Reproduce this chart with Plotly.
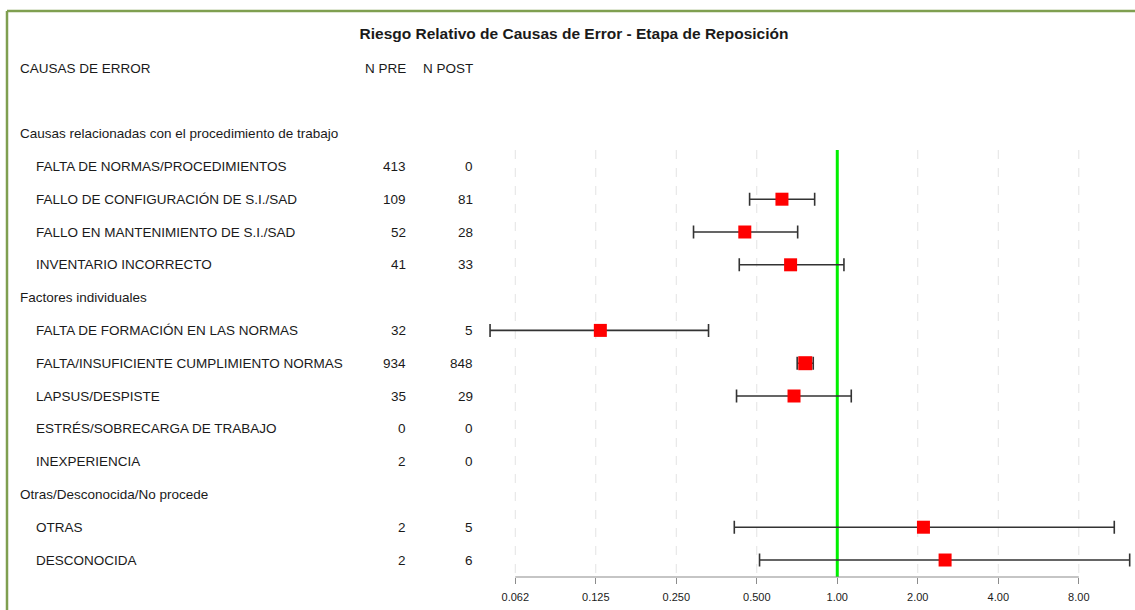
import plotly.graph_objects as go

# ---------------- data ----------------
row_labels = [
    "CAUSAS DE ERROR", "",
    "Causas relacionadas con el procedimiento de trabajo",
    "FALTA DE NORMAS/PROCEDIMIENTOS",
    "FALLO DE CONFIGURACIÓN DE S.I./SAD",
    "FALLO EN MANTENIMIENTO DE S.I./SAD",
    "INVENTARIO INCORRECTO",
    "Factores individuales",
    "FALTA DE FORMACIÓN EN LAS NORMAS",
    "FALTA/INSUFICIENTE CUMPLIMIENTO NORMAS",
    "LAPSUS/DESPISTE",
    "ESTRÉS/SOBRECARGA DE TRABAJO",
    "INEXPERIENCIA",
    "Otras/Desconocida/No procede",
    "OTRAS",
    "DESCONOCIDA",
]
row_kind = ["header", "blank", "group", "item", "item", "item", "item", "group",
            "item", "item", "item", "item", "item", "group", "item", "item"]
n_pre = ["N PRE", "", "", "413", "109", "52", "41", "", "32", "934", "35", "0", "2", "", "2", "2"]
n_post = ["N POST", "", "", "0", "81", "28", "33", "", "5", "848", "29", "0", "0", "", "5", "6"]
rr = [None, None, None, None, 0.621, 0.451, 0.669, None, 0.130, 0.759, 0.689, None, None, None, 2.10, 2.53]
ci_lo = [None, None, None, None, 0.470, 0.290, 0.430, None, 0.0503, 0.708, 0.420, None, None, None, 0.412, 0.512]
ci_hi = [None, None, None, None, 0.823, 0.711, 1.059, None, 0.330, 0.813, 1.128, None, None, None, 10.86, 12.4]

tick_vals = [0.0625, 0.125, 0.25, 0.5, 1, 2, 4, 8]
tick_text = ["0.062", "0.125", "0.250", "0.500", "1.00", "2.00", "4.00", "8.00"]
title = "Riesgo Relativo de Causas de Error - Etapa de Reposición"

# ---------------- figure ----------------
W, H = 1135, 610
FONT = "Liberation Sans, Arial, sans-serif"
TXT = "#1a1a1a"
LBL_SIZE = 13.5

rows = list(range(len(row_labels)))
idx = [i for i in rows if rr[i] is not None]
xs = [rr[i] for i in idx]
ys = [i for i in idx]
err_plus = [ci_hi[i] - rr[i] for i in idx]
err_minus = [rr[i] - ci_lo[i] for i in idx]
sizes = [14 if n_pre[i] == "934" else 13 for i in idx]

fig = go.Figure()

shapes = []
# gridlines
for v in tick_vals:
    shapes.append(dict(type="line", xref="x", yref="y", x0=v, x1=v, y0=2.5, y1=15.518,
                       line=dict(color="#e3e3e3", width=1, dash="dash"), layer="below"))
# reference line at 1
shapes.append(dict(type="line", xref="x", yref="y", x0=1, x1=1, y0=2.5, y1=15.518,
                   line=dict(color="#00f000", width=3), layer="below"))
# axis line between first and last tick
shapes.append(dict(type="line", xref="x", yref="paper", x0=tick_vals[0], x1=tick_vals[-1], y0=0, y1=0,
                   line=dict(color="#8c8c8c", width=1.2)))
# frame (page border)
ph = 577.0
shapes.append(dict(type="line", xref="paper", yref="paper", x0=7/W, x1=1.0, y0=1-11/ph, y1=1-11/ph,
                   line=dict(color="#7f9f50", width=2.5)))
shapes.append(dict(type="line", xref="paper", yref="paper", x0=7/W, x1=7/W, y0=1-11/ph, y1=1-H/ph,
                   line=dict(color="#7f9f50", width=2.5)))

fig.add_trace(go.Scatter(
    x=xs, y=ys, mode="markers",
    marker=dict(symbol="square", size=sizes, color="#ff0000", opacity=1, line=dict(width=0)),
    error_x=dict(type="data", symmetric=False, array=err_plus, arrayminus=err_minus,
                 color="#333333", thickness=1.6, width=6.5),
    cliponaxis=False, hoverinfo="skip", showlegend=False,
))

annotations = []
for i in rows:
    kind = row_kind[i]
    if kind == "blank":
        continue
    x_px = 34 if kind == "item" else 18
    annotations.append(dict(x=x_px / W, xref="paper", y=i, yref="y", text=row_labels[i],
                            xanchor="left", yanchor="middle", showarrow=False,
                            font=dict(family=FONT, size=LBL_SIZE, color=TXT)))
    if n_pre[i]:
        annotations.append(dict(x=408 / W, xref="paper", y=i, yref="y", text=n_pre[i],
                                xanchor="right", yanchor="middle", showarrow=False,
                                font=dict(family=FONT, size=LBL_SIZE, color=TXT)))
    if n_post[i]:
        annotations.append(dict(x=475 / W, xref="paper", y=i, yref="y", text=n_post[i],
                                xanchor="right", yanchor="middle", showarrow=False,
                                font=dict(family=FONT, size=LBL_SIZE, color=TXT)))

fig.update_layout(
    width=W, height=H,
    margin=dict(l=0, r=0, t=0, b=H - 577, pad=0),
    paper_bgcolor="white", plot_bgcolor="white",
    title=dict(text=f"<b>{title}</b>", x=574 / W, xref="paper", xanchor="center",
               y=1 - 34 / H, yref="container", yanchor="middle",
               font=dict(family=FONT, size=15.5, color=TXT)),
    xaxis=dict(type="log", range=[-3.1310, 1.1133], domain=[0, 1],
               tickvals=tick_vals, ticktext=tick_text, ticks="outside", ticklen=6,
               tickcolor="#8c8c8c", tickwidth=1.2, showgrid=False, zeroline=False,
               showline=False, tickfont=dict(family=FONT, size=11, color=TXT),
               ticklabelstandoff=4, fixedrange=True),
    yaxis=dict(range=[15.518, -2.073], visible=False, showgrid=False, zeroline=False,
               fixedrange=True),
    shapes=shapes, annotations=annotations,
)

fig.write_html("out.html")
